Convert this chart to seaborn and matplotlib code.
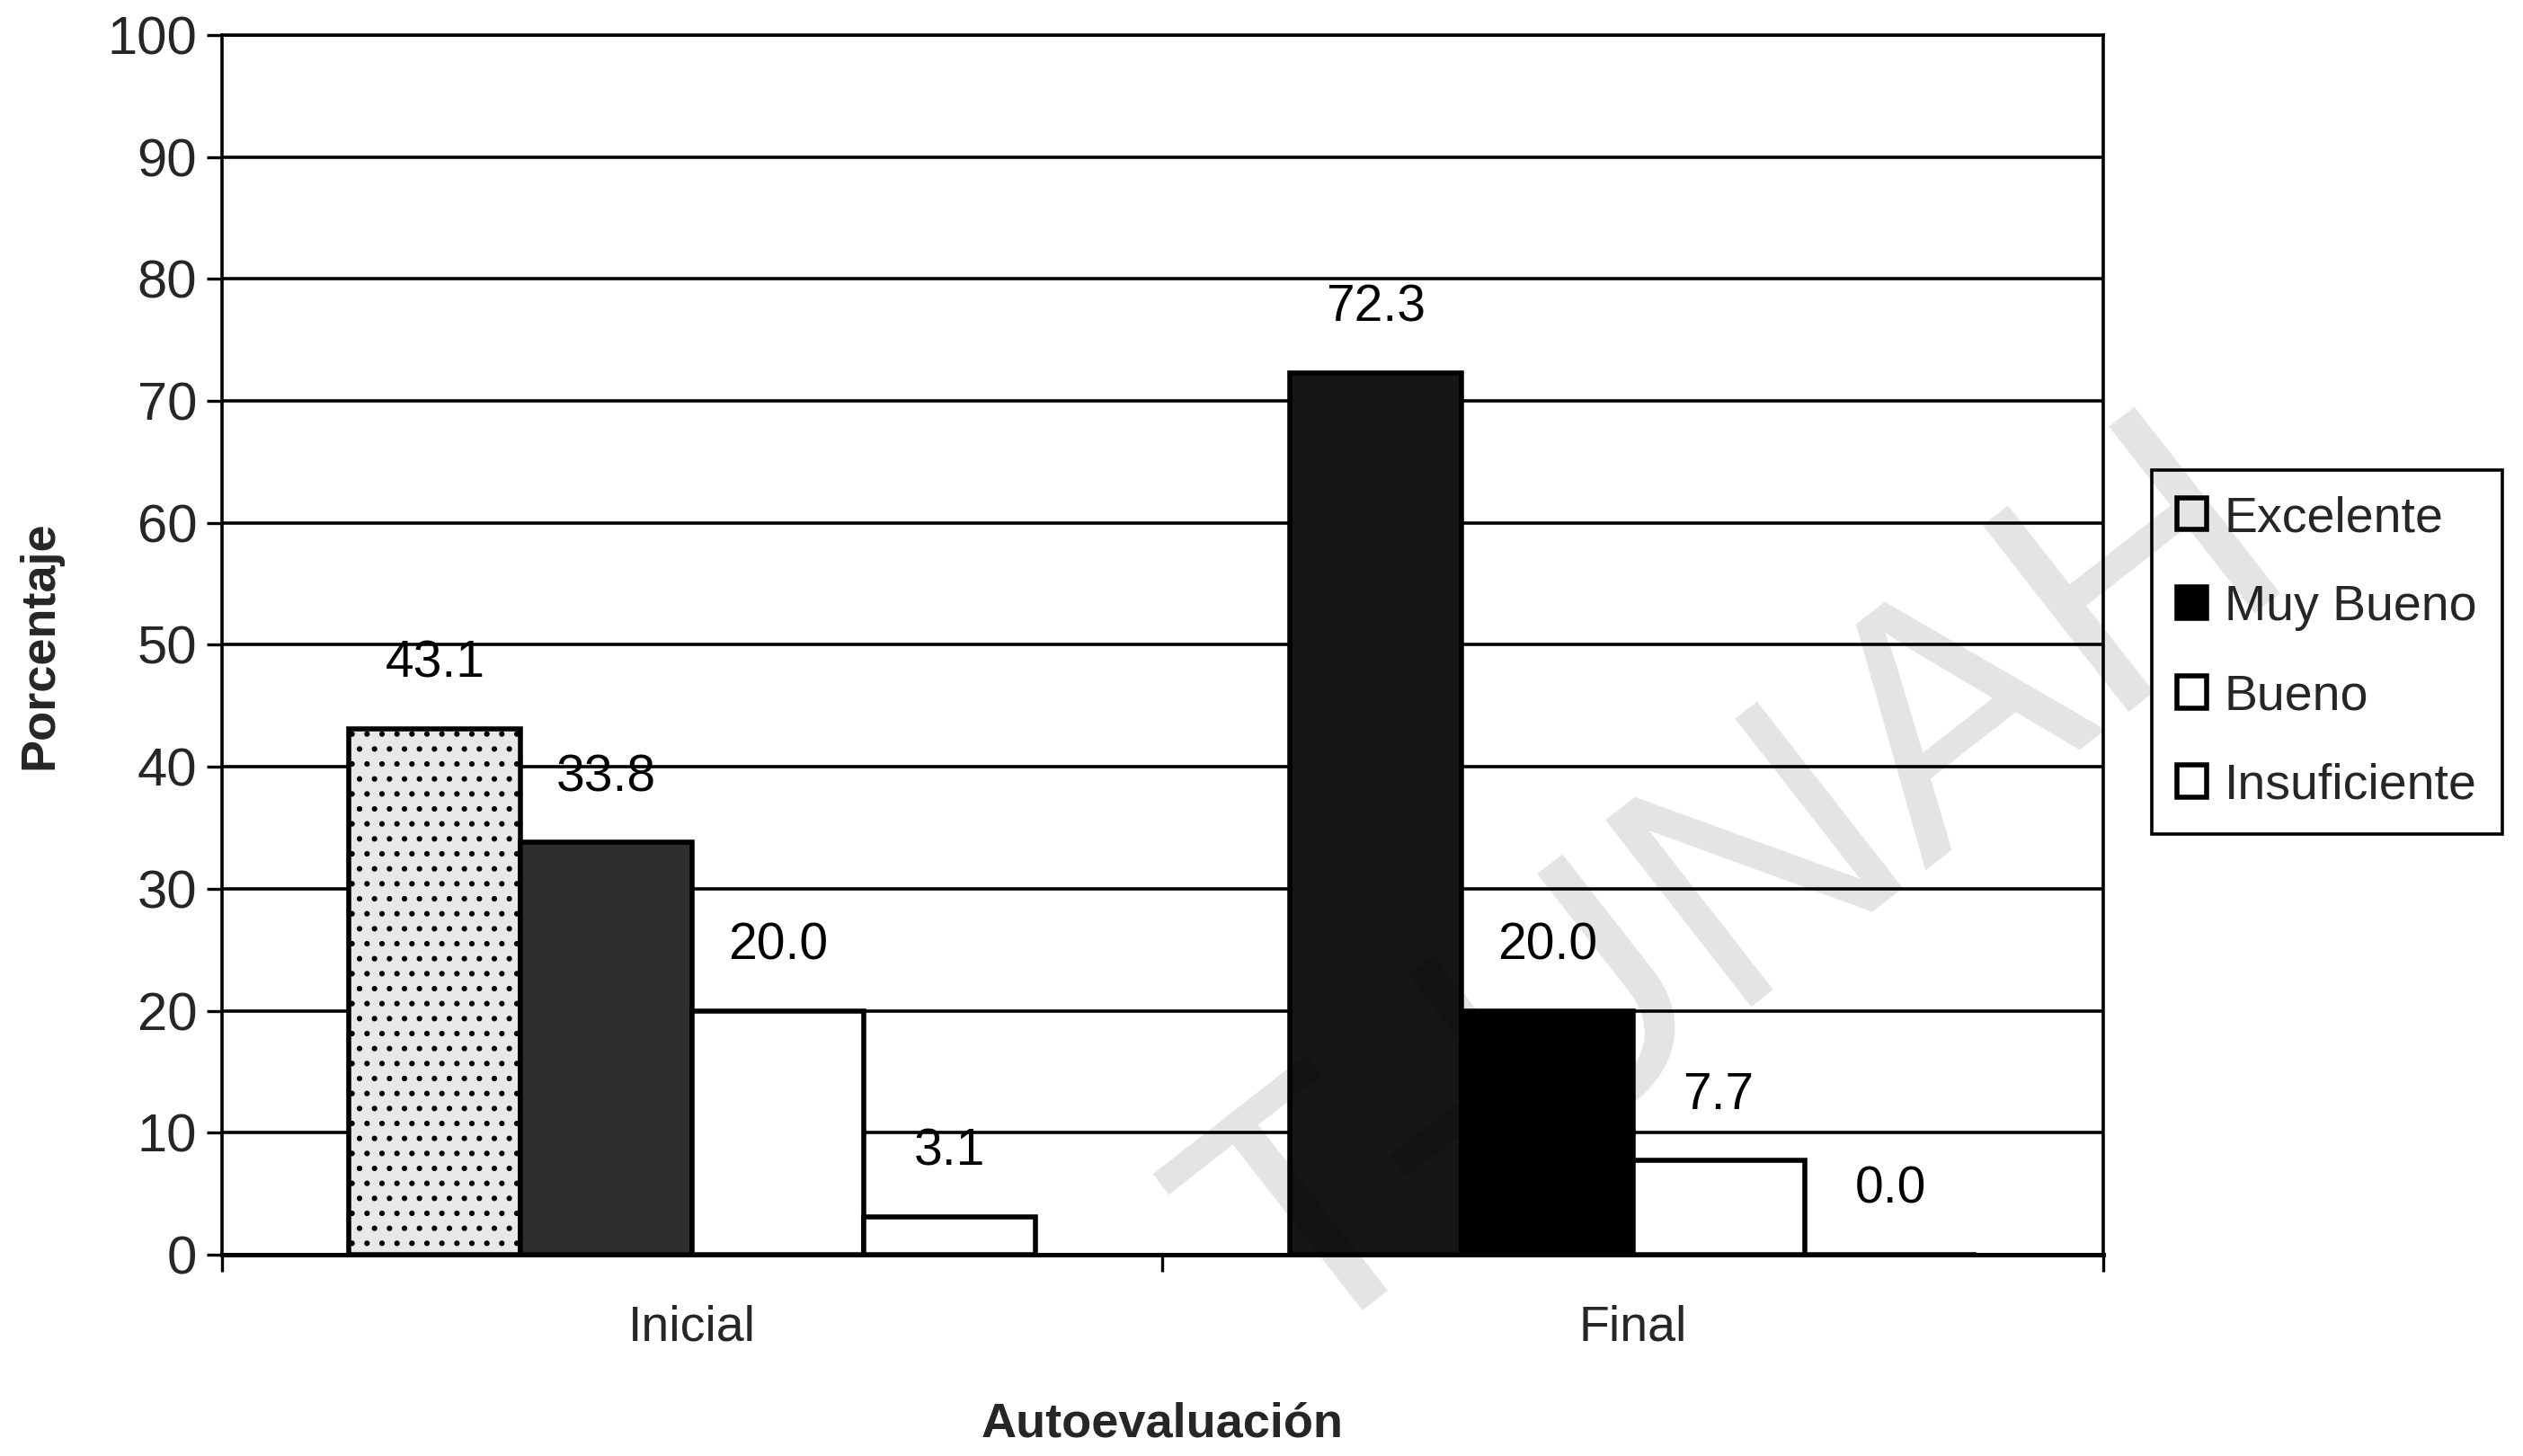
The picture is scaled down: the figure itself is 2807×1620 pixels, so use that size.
import matplotlib
matplotlib.use("Agg")
import matplotlib.pyplot as plt
import seaborn as sns
import pandas as pd
from matplotlib.ticker import FixedLocator
from matplotlib.patches import Patch

categories = ["Inicial", "Final"]
levels = ["Excelente", "Muy Bueno", "Bueno", "Insuficiente"]
inicial_values = [43.1, 33.8, 20.0, 3.1]
final_values = [72.3, 20.0, 7.7, 0.0]
yticks = [0, 10, 20, 30, 40, 50, 60, 70, 80, 90, 100]

rows = []
for cat, vals in zip(categories, [inicial_values, final_values]):
    for lev, v in zip(levels, vals):
        rows.append({"Momento": cat, "Nivel": lev, "Porcentaje": v})
df = pd.DataFrame(rows)

sns.set_theme(style="white")
plt.rcParams['font.family'] = ['Liberation Sans', 'DejaVu Sans']

fig = plt.figure(figsize=(14.035, 8.1), dpi=200)
ax = fig.add_axes([0.088, 0.1383, 0.7456, 0.8377])

palette = {"Excelente": "white", "Muy Bueno": "black", "Bueno": "white", "Insuficiente": "white"}
sns.barplot(data=df, x="Momento", y="Porcentaje", hue="Nivel", order=categories,
            hue_order=levels, palette=palette, width=0.73, gap=0, ax=ax,
            edgecolor="black", linewidth=2.0, legend=False, zorder=3)

# per-bar fill styles resembling the scanned textures
styles = {
    ("Inicial", "Excelente"): dict(facecolor="#e8e8e8", hatch=".."),
    ("Inicial", "Muy Bueno"): dict(facecolor="#2e2e2e", hatch=None),
    ("Final", "Excelente"): dict(facecolor="#161616", hatch=None),
    ("Final", "Muy Bueno"): dict(facecolor="black", hatch=None),
}
for i, container in enumerate(ax.containers):
    lev = levels[i]
    for j, bar in enumerate(container):
        st = styles.get((categories[j], lev))
        if st:
            bar.set_facecolor(st["facecolor"])
            if st["hatch"]:
                bar.set_hatch(st["hatch"])
    labels = [f"{v:.1f}" for v in container.datavalues]
    for bar, lab in zip(container, labels):
        ax.annotate(lab, (bar.get_x() + bar.get_width() / 2, bar.get_height()),
                    xytext=(0, 26), textcoords="offset points",
                    ha="center", va="center", fontsize=20.5, color="black", zorder=5)

ax.set_ylim(0, 100)
ax.set_xlim(-0.5, 1.5)
ax.set_yticks(yticks)
ax.set_yticklabels([str(t) for t in yticks], fontsize=21.5)
ax.yaxis.grid(True, color="black", linewidth=1.3, zorder=0)
ax.set_axisbelow(True)
ax.tick_params(axis="y", which="major", length=6, width=1.2, color="black", direction="out", left=True, pad=4)
ax.tick_params(axis="x", which="major", length=0, labelsize=20, pad=20)
ax.xaxis.set_minor_locator(FixedLocator([-0.5, 0.5, 1.5]))
ax.tick_params(axis="x", which="minor", length=7, width=1.2, color="black", direction="out", bottom=True)

for side in ["left", "right", "bottom", "top"]:
    ax.spines[side].set_visible(True)
    ax.spines[side].set_color("black")
    ax.spines[side].set_linewidth(1.3)
ax.spines["bottom"].set_linewidth(1.8)

ax.set_xlabel("Autoevaluación", fontsize=19.5, fontweight="bold", labelpad=20)
ax.set_ylabel("Porcentaje", fontsize=19.5, fontweight="bold", labelpad=18)

handles = [Patch(facecolor=("black" if lev == "Muy Bueno" else "white"), edgecolor="black", linewidth=2.0)
           for lev in levels]
leg = fig.legend(handles, levels, loc="upper left", bbox_to_anchor=(0.853, 0.677),
                 bbox_transform=fig.transFigure, fontsize=20, frameon=True, fancybox=False,
                 edgecolor="black", framealpha=1, handlelength=0.6, handleheight=0.6,
                 handletextpad=0.35, labelspacing=0.85, borderpad=0.5, borderaxespad=0)
leg.get_frame().set_linewidth(1.3)

# watermark
fig.text(0.69, 0.385, "T-UNAH", fontsize=138, rotation=38, color="black", alpha=0.11,
         ha="center", va="center", zorder=10)

fig.savefig("out.png", dpi=200, facecolor="white")
